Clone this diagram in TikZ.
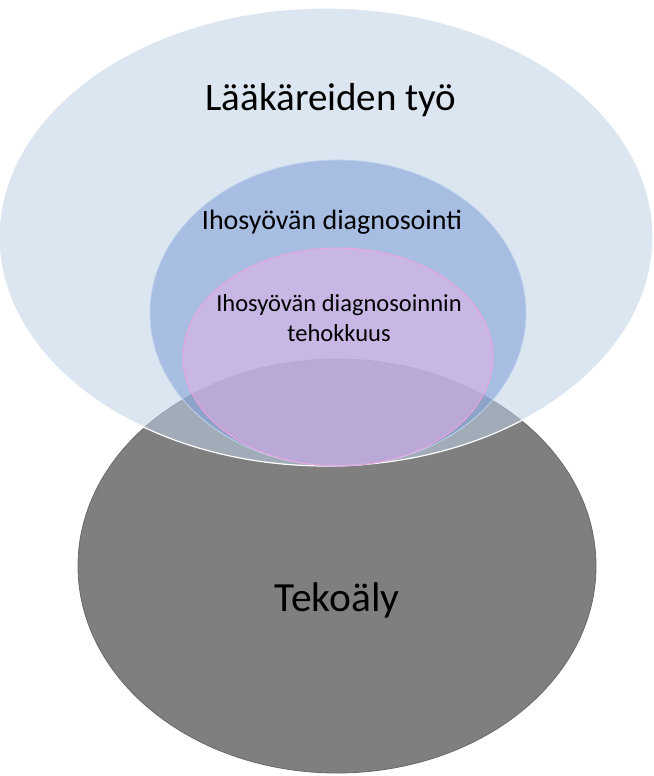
\documentclass[tikz,border=0pt]{standalone}
\usepackage{fontspec}
\setmainfont{Carlito}
\definecolor{graybase}{RGB}{127,127,127}
\definecolor{grayedge}{RGB}{105,105,105}
\definecolor{bigblue}{RGB}{191,210,231}
\definecolor{midblue}{RGB}{127,157,215}
\definecolor{midedge}{RGB}{190,210,238}
\definecolor{pinkfill}{RGB}{238,177,233}
\definecolor{pinkedge}{RGB}{240,160,220}
\tikzset{
  lbl/.style={text=black, inner sep=0pt, align=center}
}
\begin{document}
\begin{tikzpicture}[x=1pt,y=-1pt]
\useasboundingbox (0,0) rectangle (653,776);
\fill[white] (0,0) rectangle (653,776);
% Tekoäly ellipse (bottom layer)
\draw[fill=graybase, draw=grayedge, line width=0.8pt] (337,566) ellipse [x radius=259, y radius=207];
% Lääkäreiden työ
\draw[fill=bigblue, fill opacity=0.55, draw=white, line width=1.2pt] (326,237) ellipse [x radius=327, y radius=229];
% Ihosyövän diagnosointi
\draw[fill=midblue, fill opacity=0.55, draw=midedge, line width=0.8pt] (338,313) ellipse [x radius=188, y radius=153];
% Ihosyövän diagnosoinnin tehokkuus
\draw[fill=pinkfill, fill opacity=0.46, draw=pinkedge, line width=0.8pt] (338,357) ellipse [x radius=155, y radius=109];
% labels
\node[lbl, font=\fontsize{39}{45}\selectfont] (laak) at (331,100) {Lääkäreiden työ};
\node[lbl, font=\fontsize{28}{32}\selectfont] (diag) at (332,222) {Ihosyövän diagnosointi};
\node[lbl, font=\fontsize{24.5}{30}\selectfont] (teho) at (339,318) {Ihosyövän diagnosoinnin\\tehokkuus};
\node[lbl, font=\fontsize{41.5}{48}\selectfont] (tek) at (337,600) {Tekoäly};
\end{tikzpicture}
\end{document}
